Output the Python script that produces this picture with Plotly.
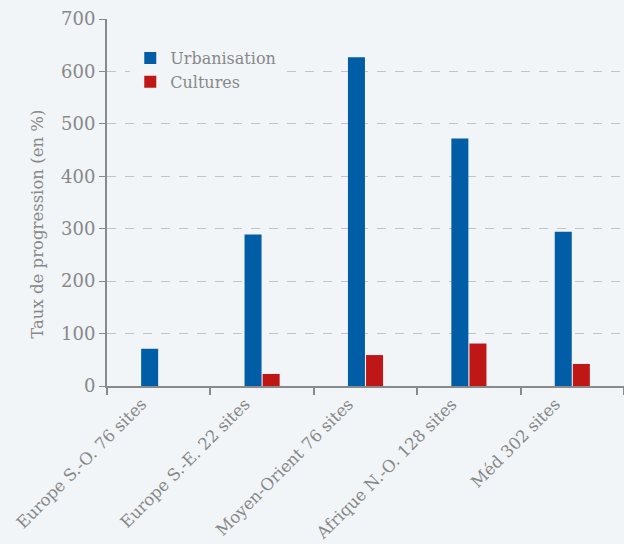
import plotly.graph_objects as go

categories = ["Europe S.-O. 76 sites", "Europe S.-E. 22 sites", "Moyen-Orient 76 sites",
              "Afrique N.-O. 128 sites", "Méd 302 sites"]
urbanisation = [71, 289, 627, 472, 294]
cultures = [None, 23, 59, 81, 42]
y_ticks = [0, 100, 200, 300, 400, 500, 600, 700]
y_title = "Taux de progression (en %)"

FONT = "DejaVu Serif"
GREY = "#888888"
BG = "#f1f5f8"

fig = go.Figure()
fig.add_trace(go.Bar(name="Urbanisation", x=categories, y=urbanisation,
                     marker=dict(color="#005da6", line=dict(width=0))))
fig.add_trace(go.Bar(name="Cultures", x=categories, y=cultures,
                     marker=dict(color="#bf1616", line=dict(width=0))))

fig.add_annotation(text=y_title, textangle=-90, xref="paper", yref="paper",
                   x=-0.135, y=0.44, xanchor="center", yanchor="middle",
                   showarrow=False, font=dict(size=16.5, color=GREY, family=FONT))

fig.update_layout(
    width=624, height=544,
    margin=dict(l=107, r=0, t=19, b=158),
    paper_bgcolor=BG, plot_bgcolor="rgba(0,0,0,0)",
    barmode="group", bargap=0.65, bargroupgap=0.06,
    font=dict(family=FONT, color=GREY),
    legend=dict(x=0.045, y=0.94, xanchor="left", yanchor="top",
                bgcolor=BG, font=dict(size=16, color=GREY),
                entrywidth=115, entrywidthmode="pixels",
                itemwidth=30, tracegroupgap=6),
    xaxis=dict(showline=True, linecolor="#8a8a8a", linewidth=2,
               ticks="outside", tickson="boundaries", ticklen=7, tickcolor="#8a8a8a",
               tickwidth=1.5, tickangle=-45, tickfont=dict(size=16.5, color=GREY),
               ticklabelshift=-17,
               showgrid=False, range=[-0.5, 4.5]),
    yaxis=dict(range=[0, 700], tickvals=y_ticks, showline=True, linecolor="#8a8a8a",
               linewidth=2, ticks="outside", ticklen=6, tickcolor="#8a8a8a",
               tickfont=dict(size=18, color=GREY),
               showgrid=True, gridcolor="#c4c4c4", griddash="dash", gridwidth=1,
               zeroline=False),
)

fig.write_html("out.html", config={"displayModeBar": False},
               post_script="document.body.style.margin='0';"
                           "document.body.style.background='%s';" % BG)
